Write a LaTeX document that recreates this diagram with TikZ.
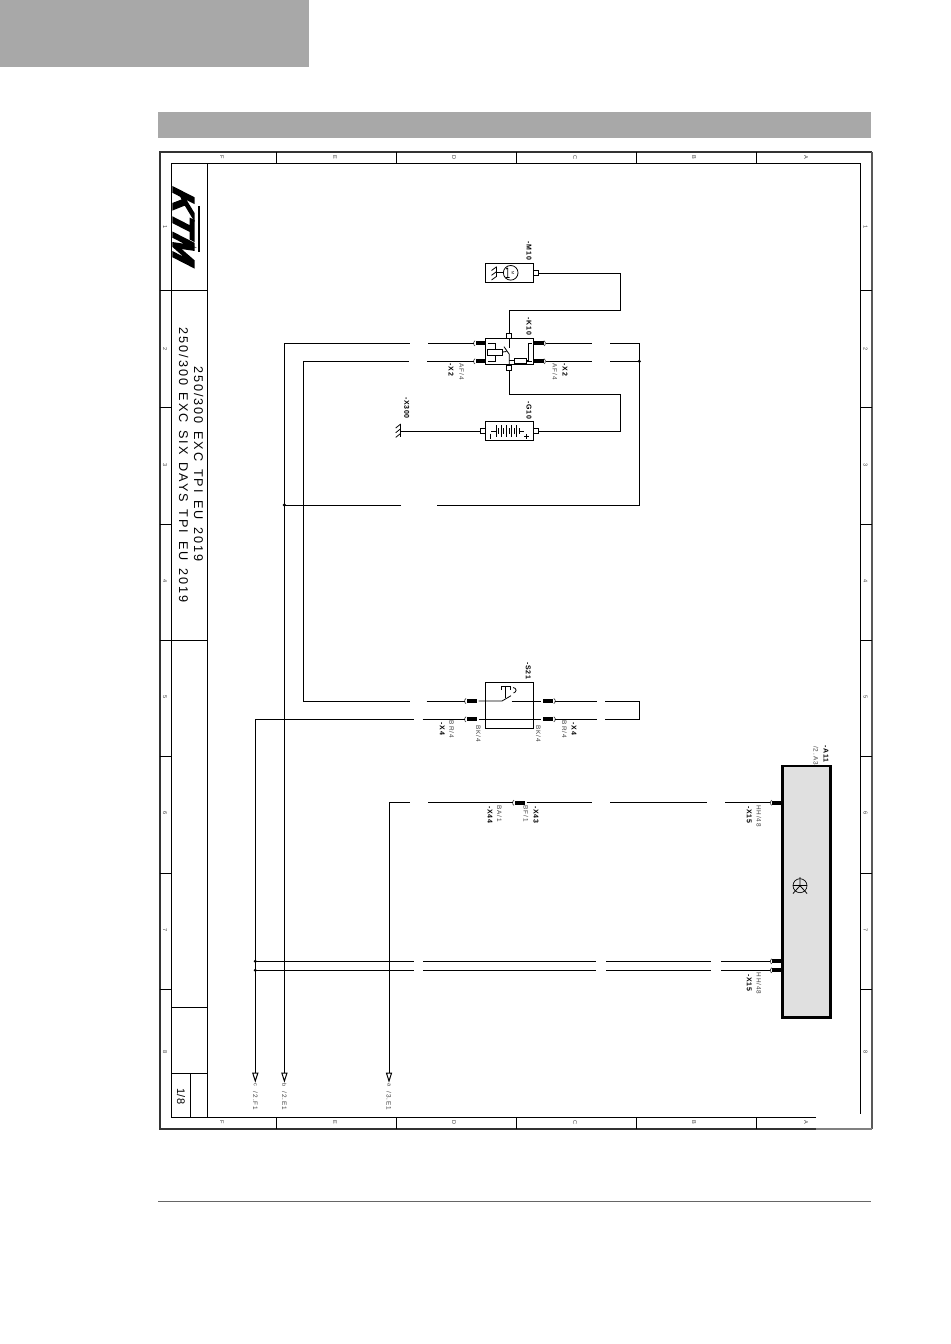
\documentclass[tikz,border=0pt]{standalone}
\usepackage{fontspec}
\usetikzlibrary{arrows.meta}
\setmainfont{Liberation Sans}
\newfontfamily\tagfont[LetterSpace=10]{Liberation Sans}
\newfontfamily\notefont[LetterSpace=15]{Liberation Sans}
\newfontfamily\titlefont[LetterSpace=15.5,WordSpace=1.4]{Liberation Sans}
\newfontfamily\logofont[BoldFeatures={FakeBold=5,FakeSlant=0.45}]{Liberation Sans}
\definecolor{headgrey}{HTML}{A8A8A8}
\definecolor{notegrey}{HTML}{404040}
\tikzset{
  wire/.style={line width=0.75pt},
  thin wire/.style={line width=0.6pt},
  devbox/.style={draw,fill=white,line width=0.75pt,inner sep=0pt,minimum width=36.3pt},
  pinbox/.style={draw,fill=white,line width=0.6pt,inner sep=0pt,outer sep=0pt,minimum size=3.75pt},
  plugbar/.style={fill=black,inner sep=0pt,outer ysep=0pt,outer xsep=1.5pt,minimum width=7.5pt,minimum height=3pt},
  plugarc/.style={line width=0.5pt,draw=notegrey},
  devtag/.style={rotate=-90,inner sep=0pt,font=\tagfont\fontsize{5.25}{6}\selectfont\bfseries},
  devnote/.style={rotate=-90,inner sep=0pt,text=notegrey,font=\notefont\fontsize{4.8}{5}\selectfont},
  gridmark/.style={rotate=-90,inner sep=0pt,text=notegrey,font=\fontsize{4.2}{5}\selectfont},
  junction/.style={circle,fill=black,inner sep=0pt,minimum size=2.6pt},
  offsheet/.style={-{Triangle[open,length=7.5pt,width=4.6pt]}}
}
\begin{document}
\begin{tikzpicture}[x=0.75pt,y=-0.75pt]
  \useasboundingbox (0,0) rectangle (950,1344);
  % page furniture
  \fill[headgrey] (0,0) rectangle (309,67);
  \fill[headgrey] (158,112) rectangle (871,138);
  \draw[line width=0.6pt,draw=black!60] (158,1201) -- (871,1201);
  \draw[line width=1.5pt,draw=black!80] (816,1129) -- (159.5,1129) -- (159.5,152.5) -- (871.5,152.5);
  \draw[line width=1.5pt,draw=black!65] (871.5,152.5) -- (871.5,1129);
  \draw[line width=1pt,draw=black!50] (871.5,1129) -- (816,1129);
  \draw[wire] (816,1117) -- (171.5,1117) -- (171.5,163.5) -- (860.5,163.5) -- (860.5,1114);
  \draw[wire] (207.5,163.5) -- (207.5,1117);
  \draw[wire] (171.5,291) -- (207.5,291) (171.5,640) -- (207.5,640) (171.5,1007) -- (207.5,1007) (171.5,1073.5) -- (207.5,1073.5);
  \draw[wire] (190.3,1073.5) -- (190.3,1117);
  \foreach \x in {276.5,396,516,636,756} {
    \draw[wire] (\x,152.5) -- (\x,163.5);
    \draw[wire] (\x,1117) -- (\x,1129);
  }
  \foreach \y in {291,407,524,640,756,873,989} {
    \draw[wire] (159.5,\y) -- (171.5,\y);
    \draw[wire] (860.5,\y) -- (871.5,\y);
  }
  \foreach \c/\x in {F/222,E/335,D/454,C/575,B/694,A/806} {
    \node[gridmark] (top\c) at (\x,157.5) {\c};
    \node[gridmark] (bot\c) at (\x,1122.5) {\c};
  }
  \foreach \r/\y in {1/227,2/349,3/465,4/581,5/697,6/813,7/930,8/1052} {
    \node[gridmark] (left\r) at (165,\y) {\r};
    \node[gridmark] (right\r) at (865.5,\y) {\r};
  }
  \node[rotate=-90,inner sep=0pt] (logo) at (183.5,222) {\resizebox{55.5pt}{15.5pt}{\logofont\bfseries KTM}};
  \draw[line width=1.5pt] (199.3,206) -- (199.3,252);
  \node[rotate=-90,inner sep=0pt,font=\titlefont\fontsize{9.5}{11}\selectfont] (titlea) at (198.7,464) {250/300 EXC TPI EU 2019};
  \node[rotate=-90,inner sep=0pt,font=\titlefont\fontsize{9.5}{11}\selectfont] (titleb) at (183.7,465) {250/300 EXC SIX DAYS TPI EU 2019};
  \node[rotate=-90,inner sep=0pt,font=\fontsize{8.25}{10}\selectfont] (sheet) at (181,1096.5) {1/8};

  % devices
  \node[devbox,minimum height=14.25pt] (m10) at (509.5,272.8) {};
  \node[devbox,minimum height=20pt] (k10) at (509.5,351.6) {};
  \node[devbox,minimum height=14.5pt] (g10) at (509.5,431.2) {};
  \node[devbox,minimum height=34.5pt] (s21) at (509.5,705.3) {};
  \node[devbox,fill=black!12,line width=1.9pt,minimum height=188.5pt] (a11) at (806.5,891.6) {};
  \node[pinbox] (m10p) at (536,273.3) {};
  \node[pinbox] (k10t) at (509.3,335.8) {};
  \node[pinbox] (k10b) at (509.3,368) {};
  \node[pinbox] (g10l) at (482.8,431) {};
  \node[pinbox] (g10r) at (535.8,431) {};

  % plugs
  \node[plugbar] (x2lt) at (480.5,343.3) {};
  \node[plugbar] (x2lb) at (480.5,361.3) {};
  \node[plugbar] (x2rt) at (538.5,343.3) {};
  \node[plugbar] (x2rb) at (538.5,361.3) {};
  \node[plugbar] (x4lt) at (471.5,701) {};
  \node[plugbar] (x4lb) at (471.5,719.3) {};
  \node[plugbar] (x4rt) at (548.3,701) {};
  \node[plugbar] (x4rb) at (548.3,719.3) {};
  \node[plugbar] (x44) at (519.5,802.7) {};
  \node[plugbar] (x15a) at (777.3,802.7) {};
  \node[plugbar] (x15b) at (777.3,961.3) {};
  \node[plugbar] (x15c) at (777.3,970.3) {};
  \foreach \p in {x2lt,x2lb,x4lt,x4lb,x44,x15a,x15b,x15c}
    \draw[plugarc] ([shift={(1.5,-2.6)}]\p.west) arc[start angle=240,end angle=120,radius=3];
  \foreach \p in {x2rt,x2rb,x4rt,x4rb}
    \draw[plugarc] ([shift={(-1.5,-2.6)}]\p.east) arc[start angle=-60,end angle=60,radius=3];

  % points on the wires
  \path
    (620.7,273.3) coordinate (mr)
    (620.7,310.3) coordinate (ku)
    (509.3,310.3) coordinate (kt)
    (509.3,394.3) coordinate (kb)
    (620.7,394.3) coordinate (gu)
    (620.7,431) coordinate (gr)
    (400.7,431) coordinate (gnd)
    (284.4,343.3) coordinate (bl)
    (410,343.3) coordinate (blgl)
    (428,343.3) coordinate (blgr)
    (591.7,343.3) coordinate (trgl)
    (610,343.3) coordinate (trgr)
    (639.3,343.3) coordinate (tre)
    (303.5,361.3) coordinate (sl)
    (409.3,361.3) coordinate (slgl)
    (427,361.3) coordinate (slgr)
    (591.7,361.3) coordinate (brgl)
    (610,361.3) coordinate (brgr)
    (639.3,505) coordinate (busb)
    (437,505) coordinate (busgr)
    (401,505) coordinate (busgl)
    (284.4,505) coordinate (busl)
    (303.5,701) coordinate (swl)
    (410,701) coordinate (swgl)
    (426.7,701) coordinate (swgr)
    (596.7,701) coordinate (srgl)
    (605,701) coordinate (srgr)
    (639.3,701) coordinate (srt)
    (639.3,719.3) coordinate (srb)
    (605,719.3) coordinate (sbgr)
    (596.7,719.3) coordinate (sbgl)
    (255.3,719.3) coordinate (cl)
    (414,719.3) coordinate (clgl)
    (422.7,719.3) coordinate (clgr)
    (389,802.7) coordinate (al)
    (410,802.7) coordinate (algl)
    (428,802.7) coordinate (algr)
    (591.7,802.7) coordinate (aagl)
    (610,802.7) coordinate (aagr)
    (706.7,802.7) coordinate (abgl)
    (725,802.7) coordinate (abgr)
    (255.3,961.3) coordinate (da)
    (255.3,970.3) coordinate (db)
    (413.5,961.3) coordinate (dag1)
    (423,961.3) coordinate (dag2)
    (596,961.3) coordinate (dag3)
    (606,961.3) coordinate (dag4)
    (710.7,961.3) coordinate (dag5)
    (721,961.3) coordinate (dag6)
    (413.5,970.3) coordinate (dbg1)
    (423,970.3) coordinate (dbg2)
    (596,970.3) coordinate (dbg3)
    (606,970.3) coordinate (dbg4)
    (710.7,970.3) coordinate (dbg5)
    (721,970.3) coordinate (dbg6)
    (255.3,1082.7) coordinate (sheetc)
    (284.4,1082.7) coordinate (sheetb)
    (389,1082.7) coordinate (sheeta);

  % wiring
  \begin{scope}[wire]
    \draw (m10p.east) -- (mr) -- (ku) -- (kt) -- (k10t.north);
    \draw (k10b.south) -- (kb) -- (gu) -- (gr) -- (g10r.east);
    \draw (g10l.west) -- (gnd);
    \draw (sl) -- (slgl);
    \draw (slgr) -- (x2lb.west);
    \draw (bl) -- (blgl);
    \draw (blgr) -- (x2lt.west);
    \draw (x2rt.east) -- (trgl);
    \draw (trgr) -- (tre) -- (busb) -- (busgr);
    \draw (x2rb.east) -- (brgl);
    \draw (brgr) -- (brgr -| tre);
    \draw (busgl) -- (busl);
    \draw (sl) -- (swl) -- (swgl);
    \draw (swgr) -- (x4lt.west);
    \draw (cl) -- (clgl);
    \draw (clgr) -- (x4lb.west);
    \draw (x4rt.east) -- (srgl);
    \draw (srgr) -- (srt) -- (srb) -- (sbgr);
    \draw (x4rb.east) -- (sbgl);
    \draw (x4lb.east) -- (x4rb.west);
    \draw (al) -- (algl);
    \draw (algr) -- (x44.west);
    \draw (x44.east) -- (aagl);
    \draw (aagr) -- (abgl);
    \draw (abgr) -- (x15a.west);
    \draw (da) -- (dag1) (dag2) -- (dag3) (dag4) -- (dag5) (dag6) -- (x15b.west);
    \draw (db) -- (dbg1) (dbg2) -- (dbg3) (dbg4) -- (dbg5) (dbg6) -- (x15c.west);
    \draw[offsheet] (cl) -- (sheetc);
    \draw[offsheet] (bl) -- (sheetb);
    \draw[offsheet] (al) -- (sheeta);
  \end{scope}
  \node[junction] (ja) at (639.3,361.3) {};
  \node[junction] (jb) at (busl) {};
  \node[junction] (jc) at (da) {};
  \node[junction] (jd) at (db) {};

  % inside K10
  \node[pinbox,minimum width=11.6pt,minimum height=4.4pt] (coil) at (495,352) {};
  \node[pinbox,minimum width=9.3pt,minimum height=3.75pt] (fuse) at (520.5,360.8) {};
  \begin{scope}[thin wire]
    \draw (x2lt.east) -| (coil.north);
    \draw (x2lb.east) -| (coil.south);
    \draw (coil.east) -- (506.5,351.5);
    \draw (k10t.south) -- (509.3,347.5);
    \draw (504,346.7) -- (509.3,354.3) -- (k10b.north);
    \draw (fuse.west) -- (fuse.west -| k10t);
    \draw (x2rt.west) -- (528.3,343.3) -- (528.3,360.8) -- (fuse.east);
    \draw (x2rb.west) -- (fuse.east |- x2rb);
  \end{scope}

  % inside M10
  \node[circle,draw,line width=0.6pt,inner sep=0pt,minimum size=11pt] (motor) at (510.7,272.8) {};
  \node[rotate=-90,inner sep=0pt,font=\fontsize{2.8}{3}\selectfont] (motorm) at (512.8,272.8) {M};
  \begin{scope}[thin wire]
    \draw (motor.west) -- (496.7,272.8);
    \draw (496.7,266.7) -- (496.7,277.5);
    \draw (496.7,266.7) -- (491.5,270.5) (496.7,271.5) -- (491.5,275.3) (496.7,276.3) -- (491.5,280);
    \draw (507.7,268) -- (506,269) (507.7,268) -- (507.7,277.5) (506,277.5) -- (509.5,277.5);
  \end{scope}

  % inside G10
  \begin{scope}[thin wire]
    \draw (491,431) -- (496,431);
    \draw (519.4,431) -- (524,431);
    \foreach \x in {496,501.2,506.4,511.6,516.8} {
      \draw (\x,425) -- (\x,437);
      \draw (\x+2.6,428) -- (\x+2.6,434);
    }
    \draw (490.5,433.5) -- (490.5,438.5);
    \draw (524.3,436.3) -- (529.3,436.3) (526.8,433.8) -- (526.8,438.8);
  \end{scope}

  % inside S21
  \begin{scope}[thin wire]
    \draw (x4lt.east) -- (502,701) coordinate (swa) -- (511,695.7);
    \draw (511.7,701) -- (x4rt.west);
    \draw (505.7,697.5) -- (505.7,686.7);
    \draw (501,690) -- (501,686.7) -- (510,686.7) -- (510,690);
    \draw (513,687.5) .. controls (517,688) and (517,692) .. (513.5,693);
  \end{scope}

  % ground at X300
  \begin{scope}[thin wire]
    \draw (gnd) ++(0,-7) -- ++(0,13);
    \draw (400.7,424) -- (395.7,428) (400.7,428.7) -- (395.7,432.7) (400.7,433.4) -- (395.7,437.4);
  \end{scope}

  % symbol on A11
  \node[circle,draw,line width=0.5pt,inner sep=0pt,minimum size=10.5pt] (ecu) at (800,885.7) {};
  \draw[thin wire] (ecu.west) -- (ecu.east);
  \draw[thin wire] (800,877) -- (ecu.center) -- (793,893.5) (ecu.center) -- (807,893.5);

  % labels
  \path
    (529,251) node[devtag] (tagm) {-M10}
    (529,326.5) node[devtag] (tagk) {-K10}
    (451,370) node[devtag] (tagxa) {-X2}
    (565,370) node[devtag] (tagxb) {-X2}
    (406.7,408) node[devtag] (tagx) {-X300}
    (529,410.5) node[devtag] (tagg) {-G10}
    (528.3,671) node[devtag] (tags) {-S21}
    (442.3,729) node[devtag] (tagxc) {-X4}
    (574,729) node[devtag] (tagxd) {-X4}
    (490,814.5) node[devtag] (tagxe) {-X44}
    (536,814.5) node[devtag] (tagxf) {-X43}
    (826,754) node[devtag] (taga) {-A11}
    (749.3,815) node[devtag] (tagxg) {-X15}
    (749.3,982.5) node[devtag] (tagxh) {-X15};
  \path
    (461.7,371.5) node[devnote] (notea) {AF/4}
    (555,371.5) node[devnote] (noteb) {AF/4}
    (451.7,729.5) node[devnote] (notec) {BR/4}
    (478.3,733.5) node[devnote] (noted) {BK/4}
    (538.3,733.5) node[devnote] (notee) {BK/4}
    (564.3,729.5) node[devnote] (notef) {BR/4}
    (499.3,813.5) node[devnote] (noteg) {BA/1}
    (526,813.5) node[devnote] (noteh) {BF/1}
    (816,755.5) node[devnote] (notei) {/2.A3}
    (759,816) node[devnote] (notej) {HH/48}
    (759,983.5) node[devnote] (notek) {HH/48}
    (255.3,1085) node[gridmark] (refc) {c}
    (255.3,1101) node[devnote] (refcs) {/2.F1}
    (284.4,1085) node[gridmark] (refb) {b}
    (284.4,1101) node[devnote] (refbs) {/2.E1}
    (389,1085) node[gridmark] (refa) {a}
    (389,1101) node[devnote] (refas) {/3.E1};
\end{tikzpicture}
\end{document}
